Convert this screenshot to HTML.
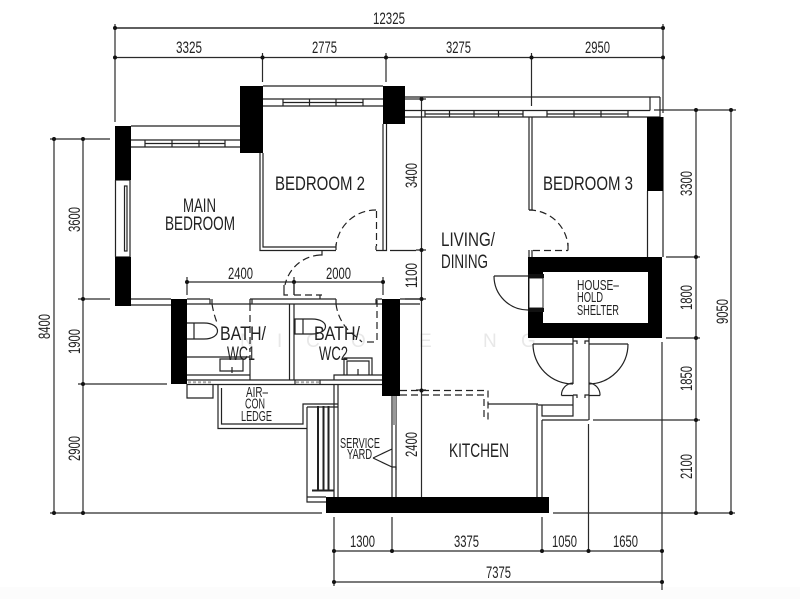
<!DOCTYPE html>
<html><head><meta charset="utf-8"><style>
html,body{margin:0;padding:0;background:#fff;width:800px;height:599px;overflow:hidden}
svg{display:block}
text{font-family:"Liberation Sans",sans-serif;fill:#222;font-size:17px}
.l{font-size:19.5px}
.s{font-size:14.5px}
.w{font-size:19px;fill:#e8e8e8}
</style></head><body>
<svg width="800" height="599" viewBox="0 0 800 599" xmlns="http://www.w3.org/2000/svg">
<rect width="800" height="599" fill="#fff"/>
<rect y="587" width="800" height="12" fill="#fcfcfc"/>

<!-- watermark -->
<g>
<text class="w" x="240" y="347">N</text><text class="w" x="277" y="347">I</text><text class="w" x="306" y="347">C</text><text class="w" x="351" y="347">O</text><text class="w" x="387" y="347">L</text><text class="w" x="419" y="347">E</text><text class="w" x="483" y="347">N</text><text class="w" x="521" y="347">G</text>
</g>

<!-- dimension lines -->
<g stroke="#2a2a2a" stroke-width="1.200" fill="none">
<path d="M115 28H663" stroke-width="1.500"/>
<path d="M115 57.500H663M115 24V122M262.500 53V82M386 53V82M531.500 53V106M663 24V113"/>
<path d="M187 282H383M187 277V295M294 277V295M383 277V295"/>
<path d="M54 139V513M83 139V513M50 139H110M78 299H110M78 384H167M50 513H322"/>
<path d="M654 110H736M696 110V513M731 110V513M666 257H700M666 338H700M593 420H700M553 513H735"/>
<path d="M421.500 98V497M405 99H426M416 250H426M405 299H426M416 390H426"/>
<path d="M334 517V586M392 517V551M542 517V551M588.500 424V551M662 342V590M334 551H662M334 582H662"/>
</g>
<g fill="#111">
<circle cx="115" cy="28" r="2"/><circle cx="663" cy="28" r="2"/>
<circle cx="115" cy="57.500" r="2"/><circle cx="262.500" cy="57.500" r="2"/><circle cx="386" cy="57.500" r="2"/><circle cx="531.500" cy="57.500" r="2"/><circle cx="663" cy="57.500" r="2"/>
<circle cx="187" cy="282" r="2"/><circle cx="294" cy="282" r="2"/><circle cx="383" cy="282" r="2"/>
<circle cx="54" cy="139" r="2"/><circle cx="83" cy="139" r="2"/><circle cx="83" cy="299" r="2"/><circle cx="83" cy="384" r="2"/><circle cx="54" cy="513" r="2"/><circle cx="83" cy="513" r="2"/>
<circle cx="696" cy="110" r="2"/><circle cx="731" cy="110" r="2"/><circle cx="696" cy="257" r="2"/><circle cx="696" cy="338" r="2"/><circle cx="696" cy="420" r="2"/><circle cx="696" cy="513" r="2"/><circle cx="731" cy="513" r="2"/>
<circle cx="421.500" cy="99" r="2"/><circle cx="421.500" cy="250" r="2"/><circle cx="421.500" cy="299" r="2"/><circle cx="421.500" cy="390.500" r="2"/>
<circle cx="334" cy="551" r="2"/><circle cx="392" cy="551" r="2"/><circle cx="542" cy="551" r="2"/><circle cx="588.500" cy="551" r="2"/><circle cx="662" cy="551" r="2"/><circle cx="334" cy="582" r="2"/><circle cx="662" cy="582" r="2"/>
</g>

<!-- plan lines -->
<g stroke="#222" stroke-width="1.200" fill="none">
<path d="M131 126H240M131 140H240M131 147H240M145 140V147M172 140V147M199 140V147M225 140V147M145 143.500H225"/>
<path d="M263 86H383M263 99H383M263 106H383M283 99V106M309.500 99V106M336 99V106M363 99V106M283 102.500H363"/>
<path d="M405 97H660M405 110.500H650M405 117H660M650 97V110.500M660 97V117M425 111V117M449.500 111V117M474 111V117M498.500 111V117M523 111V117M547 111V117M574 111V117M601 111V117M628 111V117M425 114H523M547 114H628"/>
<path d="M647.500 191V257M663 117V257"/>
<path d="M115.500 180V257M130 180V257M115 180H130M115 257H130"/>
<rect x="124.500" y="186" width="2.500" height="65"/>
<path d="M260 153V250.500H336M263 153V247H336M383 124V250.500H376M386.500 124V250.500H383M376 246V250M322 250.500V255H320"/>
<path d="M336 244L336 250"/>
<path d="M390 250.500H416"/>
<path d="M529 117V210M532 117V210M529 210H533M529 250V257"/>
<path d="M532 250V257"/>
<path d="M131 299H171M131 305H171M187 299H210M187 304H420M250 299H336M210 299V304M212 299V304M250 299V304M252 299V304M336 299V304M376 299H382M376 299V304M320 299V295"/>
<path d="M400 299H421"/>
<path d="M289.500 304V380M294 304V380M250 355V380"/>
<path d="M187 380H382M187 384.500H382"/>
<path d="M187 357H250M187 375H250M220 359H243V371H220ZM232 367V373"/>
<path d="M187 323H204C222 323 222 339 204 339H187M194 323V339"/>
<path d="M295 319H312C330 319 330 334 312 334H295ZM303 319V334"/>
<path d="M334 380V375H382M344 375V358H372V375M347 375V361H369V375M358 369V375"/>
<path d="M187 384V398H213V384M295 380V384M320 380V384"/>
<path d="M218 384V428.500H307M221.500 388V424H303V404H338"/>
<path d="M307 407V428M307 407H338"/>
<path d="M334 384V497M338 384V497M307 428V502H326M307 497H326"/>
<path d="M392 396V497M396 396V497M373 458L392 449M373 458L392 467"/>
<path d="M392 467H396V470"/>
<g stroke-width="2"><path d="M318 406V490M323.500 406V490M328.500 406V490"/><path d="M312 490.500H334"/></g>
<path d="M488 404H538M537 404V497M542 420V497M542 420H588.500M542 405V416H573V395M573 338V384M589 338V420M538 405H573"/>
<path d="M533 344H573M589 344H628M533 344A40 40 0 0 0 573 384M628 344A40 40 0 0 1 589 384M561.500 395.500A12 12 0 0 1 573 383M600 395.500A12 12 0 0 0 589 383M561.500 395.500H573M589 395.500H600"/>
<path d="M573 341H577V344M589 341H585V344M573 395H577V398M589 395H585V398"/>
<path d="M494 276H528M494 276A34 34 0 0 0 528 310"/>
<path d="M529 278H543M529 308H543"/>
</g>

<!-- dashed doors -->
<g stroke="#222" stroke-width="1.200" fill="none" stroke-dasharray="7 4">
<path d="M376 210A40 40 0 0 0 336 246"/>
<path d="M376.500 211V246"/>
<path d="M529 210A39 39 0 0 1 568 246"/>
<path d="M533 250.500H568"/>
<path d="M320 255A38 38 0 0 0 285 285"/>
<path d="M294 295H322"/>
<path d="M212 304Q214 316 218 325"/>
<path d="M250 304V352"/>
<path d="M336 304Q338 320 350 332Q358 338 362 342"/>
<path d="M377 300V342"/>
<path d="M367 342H377"/>
<path d="M400 390.500H488V421M400 395H484V421"/>
</g>
<path d="M568 243V250.500M284 285V295H288M294 282V295" stroke="#222" stroke-width="1.200" fill="none"/>

<!-- black walls -->
<g fill="#000">
<rect x="115" y="126" width="16" height="54"/>
<rect x="115" y="257" width="16" height="49"/>
<rect x="240" y="86" width="23" height="67"/>
<rect x="383" y="86" width="22" height="38"/>
<rect x="171" y="299" width="16" height="85"/>
<rect x="382" y="299" width="18" height="97"/>
<rect x="326" y="497" width="223" height="16"/>
<rect x="647" y="117" width="16" height="74"/>
<path fill-rule="evenodd" d="M528 257H662V338H528ZM543 272V323H648V272Z"/>
</g>
<rect x="529" y="278" width="14" height="30" fill="#fff" stroke="#222"/>
<rect x="528" y="274" width="16" height="4" fill="#111"/><rect x="528" y="308" width="16" height="4" fill="#111"/>
<rect x="393" y="396" width="3" height="29" fill="#999"/>
<path d="M188 382.300H213M296 382.300H319" stroke="#aaa" stroke-width="2" stroke-dasharray="3 2"/>

<!-- labels -->
<g>
<text x="373" y="24" textLength="32" lengthAdjust="spacingAndGlyphs">12325</text>
<text x="176" y="53" textLength="26" lengthAdjust="spacingAndGlyphs">3325</text>
<text x="312" y="53" textLength="25" lengthAdjust="spacingAndGlyphs">2775</text>
<text x="446" y="53" textLength="25" lengthAdjust="spacingAndGlyphs">3275</text>
<text x="585" y="53" textLength="25" lengthAdjust="spacingAndGlyphs">2950</text>
<text x="228" y="279" textLength="25" lengthAdjust="spacingAndGlyphs">2400</text>
<text x="326" y="279" textLength="25" lengthAdjust="spacingAndGlyphs">2000</text>
<text x="350" y="547" textLength="25" lengthAdjust="spacingAndGlyphs">1300</text>
<text x="454" y="547" textLength="25" lengthAdjust="spacingAndGlyphs">3375</text>
<text x="552" y="547" textLength="25" lengthAdjust="spacingAndGlyphs">1050</text>
<text x="613" y="547" textLength="25" lengthAdjust="spacingAndGlyphs">1650</text>
<text x="486" y="578" textLength="25" lengthAdjust="spacingAndGlyphs">7375</text>

<text transform="translate(80 232) rotate(-90)" textLength="25" lengthAdjust="spacingAndGlyphs">3600</text>
<text transform="translate(50 339) rotate(-90)" textLength="25" lengthAdjust="spacingAndGlyphs">8400</text>
<text transform="translate(80 354) rotate(-90)" textLength="25" lengthAdjust="spacingAndGlyphs">1900</text>
<text transform="translate(80 461) rotate(-90)" textLength="25" lengthAdjust="spacingAndGlyphs">2900</text>
<text transform="translate(417 188) rotate(-90)" textLength="25" lengthAdjust="spacingAndGlyphs">3400</text>
<text transform="translate(417 288) rotate(-90)" textLength="25" lengthAdjust="spacingAndGlyphs">1100</text>
<text transform="translate(417 457) rotate(-90)" textLength="25" lengthAdjust="spacingAndGlyphs">2400</text>
<text transform="translate(692 196) rotate(-90)" textLength="25" lengthAdjust="spacingAndGlyphs">3300</text>
<text transform="translate(692 310) rotate(-90)" textLength="25" lengthAdjust="spacingAndGlyphs">1800</text>
<text transform="translate(692 391) rotate(-90)" textLength="25" lengthAdjust="spacingAndGlyphs">1850</text>
<text transform="translate(692 479) rotate(-90)" textLength="25" lengthAdjust="spacingAndGlyphs">2100</text>
<text transform="translate(728 324) rotate(-90)" textLength="25" lengthAdjust="spacingAndGlyphs">9050</text>

<text class="l" x="183" y="212" textLength="33" lengthAdjust="spacingAndGlyphs">MAIN</text>
<text class="l" x="165" y="230" textLength="70" lengthAdjust="spacingAndGlyphs">BEDROOM</text>
<text class="l" x="275" y="190" textLength="90" lengthAdjust="spacingAndGlyphs">BEDROOM  2</text>
<text class="l" x="543" y="190" textLength="90" lengthAdjust="spacingAndGlyphs">BEDROOM  3</text>
<text class="l" x="441" y="246" textLength="54" lengthAdjust="spacingAndGlyphs">LIVING/</text>
<text class="l" x="441" y="268" textLength="47" lengthAdjust="spacingAndGlyphs">DINING</text>
<text class="l" x="449" y="457" textLength="60" lengthAdjust="spacingAndGlyphs">KITCHEN</text>
<text class="l" x="220" y="340" textLength="46" lengthAdjust="spacingAndGlyphs">BATH/</text>
<text class="l" x="227" y="360" textLength="28" lengthAdjust="spacingAndGlyphs">WC1</text>
<text class="l" x="314" y="340" textLength="46" lengthAdjust="spacingAndGlyphs">BATH/</text>
<text class="l" x="319" y="360" textLength="29" lengthAdjust="spacingAndGlyphs">WC2</text>
<text class="s" x="246" y="397" textLength="22" lengthAdjust="spacingAndGlyphs">AIR–</text>
<text class="s" x="245" y="408.500" textLength="20" lengthAdjust="spacingAndGlyphs">CON</text>
<text class="s" x="241" y="421" textLength="31" lengthAdjust="spacingAndGlyphs">LEDGE</text>
<text class="s" x="340" y="448" textLength="40" lengthAdjust="spacingAndGlyphs">SERVICE</text>
<text class="s" x="347" y="459" textLength="25" lengthAdjust="spacingAndGlyphs">YARD</text>
<text class="s" x="577" y="290" textLength="42" lengthAdjust="spacingAndGlyphs">HOUSE–</text>
<text class="s" x="577" y="302" textLength="26" lengthAdjust="spacingAndGlyphs">HOLD</text>
<text class="s" x="577" y="315" textLength="42" lengthAdjust="spacingAndGlyphs">SHELTER</text>
</g>
</svg>
</body></html>
